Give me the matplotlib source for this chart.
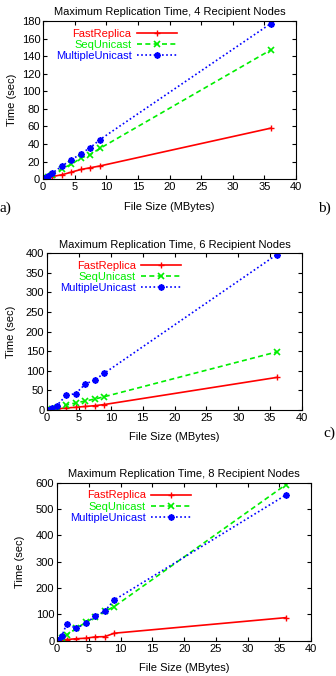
import numpy as np
import matplotlib
matplotlib.use("Agg")
import matplotlib.pyplot as plt

plt.rcParams['font.family'] = ['Liberation Sans', 'DejaVu Sans']

# file sizes (MBytes)
sizes = [0.15, 0.75, 1.5, 3, 4.5, 6, 7.5, 9, 36]

# 4 recipient nodes
fast4 = [0.5, 2, 3, 5, 8, 11, 13, 15, 58]
seq4 = [1, 3, 5, 12, 17, 24, 28, 35, 147]
multi4 = [1, 4, 7, 15, 22, 29, 36, 45, 177]

# 6 recipient nodes
fast6 = [1, 2, 3, 5, 7, 9, 11, 14, 83]
seq6 = [1, 3, 6, 13, 18, 23, 28, 34, 148]
multi6 = [1, 5, 11, 37, 42, 66, 77, 94, 396]

# 8 recipient nodes
fast8 = [2, 3, 5, 8, 10, 15, 16, 29, 88]
seq8 = [3, 10, 22, 47, 70, 90, 112, 130, 592]
multi8 = [4, 18, 65, 47, 67, 93, 113, 155, 553]

panels = [
    (4, fast4, seq4, multi4, 180, 20, [0.128, 0.735, 0.753, 0.234], 3),
    (6, fast6, seq6, multi6, 400, 50, [0.140, 0.3935, 0.759, 0.232], 7),
    (8, fast8, seq8, multi8, 600, 100, [0.170, 0.052, 0.756, 0.234], 8),
]

fig = plt.figure(figsize=(3.36, 6.76), dpi=100)

for n, f, s, m, ymax, ystep, pos, ypad in panels:
    ax = fig.add_axes(pos)
    ax.plot(sizes, f, color='#ff0000', lw=1.2, marker='+', ms=5, mew=1.0, label='FastReplica')
    ax.plot(sizes, s, color='#00ee00', lw=1.2, ls=(0, (3, 2)), marker='x', ms=4, mew=1.2, label='SeqUnicast')
    ax.plot(sizes, m, color='#0000ff', lw=1.2, ls=(0, (1, 1.5)), marker=(8, 2, 0), ms=4.5, mew=1.3, label='MultipleUnicast')
    ax.set_xlim(0, 40)
    ax.set_ylim(0, ymax)
    ax.set_xticks(np.arange(0, 41, 5))
    ax.set_yticks(np.arange(0, ymax + 1, ystep))
    ax.tick_params(direction='in', top=True, right=True, labelsize=8, length=3, pad=2)
    ax.set_xlabel('File Size (MBytes)', fontsize=8, labelpad=7)
    ax.set_ylabel('Time (sec)', fontsize=8, labelpad=ypad)
    ax.set_title('Maximum Replication Time, %d Recipient Nodes' % n, fontsize=8, pad=4)
    ax.legend(loc='upper left', bbox_to_anchor=(0.02, 1.0), frameon=False, markerfirst=False,
              fontsize=8, labelcolor='linecolor', handlelength=3.6, handletextpad=0.5,
              labelspacing=0.1, borderaxespad=0.3)
    for sp in ax.spines.values():
        sp.set_linewidth(0.8)

fig.text(0.0, 1 - 208 / 676, 'a)', fontsize=11, family='Liberation Serif', va='center')
fig.text(0.945, 1 - 208 / 676, 'b)', fontsize=11, family='Liberation Serif', va='center')
fig.text(0.963, 1 - 433 / 676, 'c)', fontsize=11, family='Liberation Serif', va='center')

fig.savefig('out.png', dpi=100)
